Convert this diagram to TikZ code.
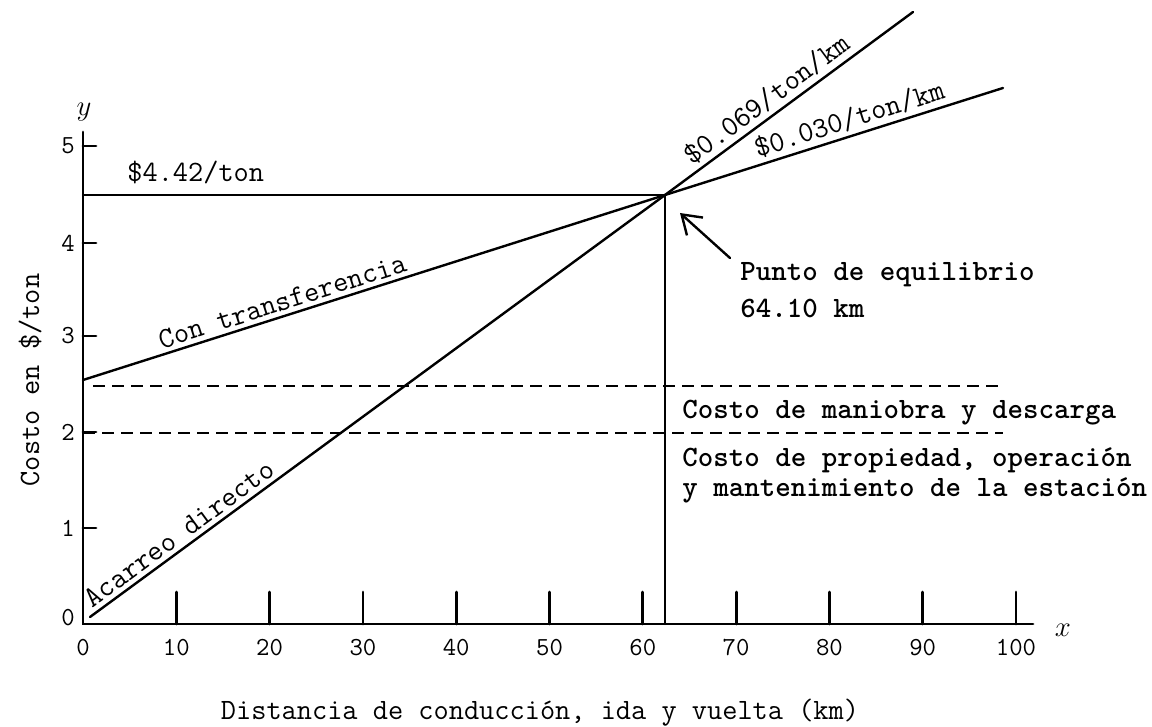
\documentclass[tikz,border=0pt]{standalone}
\usetikzlibrary{arrows.meta}
\begin{document}
\begin{tikzpicture}[x=0.5pt,y=-0.5pt,
  axisline/.style={line width=1.4pt,line cap=round},
  curve/.style={line width=1.2pt,line cap=round},
  dashline/.style={line width=1.1pt,dash pattern=on 6pt off 3.5pt},
  lbl/.style={font=\fontsize{14.75}{17}\selectfont\ttfamily,inner sep=1pt},
  blbl/.style={font=\fontsize{14.75}{17}\selectfont\ttfamily\bfseries,inner sep=1pt},
  ticklbl/.style={font=\fontsize{13}{15}\selectfont\ttfamily,inner sep=0pt},
  onlbl/.style={font=\fontsize{14.75}{17}\selectfont\ttfamily,sloped,above,inner sep=2pt}]
\useasboundingbox (0,0) rectangle (1152,727);
% key points
\coordinate (O) at (83,624);
\coordinate (Ytop) at (83,132);
\coordinate (Xend) at (1033,624);
\coordinate (P) at (665,195);
\coordinate (Pbase) at (665,624);
\coordinate (H0) at (83,195);
\coordinate (A0) at (90,617);
\coordinate (A1) at (913,12);
\coordinate (T0) at (83,380);
\coordinate (T1) at (1003,88);
\coordinate (D1a) at (93,386);
\coordinate (D1b) at (1003,386);
\coordinate (D2a) at (83,433);
\coordinate (D2b) at (1003,433);
% axes
\draw[axisline] (Ytop) -- (O) -- (Xend);
\foreach \k in {1,...,10} {
  \draw[axisline] ({83+93.3*\k},592) -- ({83+93.3*\k},624);
}
\foreach \v/\yy in {1/528,2/432,3/336,4/243,5/146} {
  \draw[axisline] (83,\yy) -- (96,\yy);
}
\foreach \k in {0,...,10} {
  \pgfmathtruncatemacro{\lab}{10*\k}
  \node[ticklbl] (xl\k) at ({83+93.3*\k},648) {\lab};
}
\foreach \v/\yy in {0/618,1/528,2/432,3/336,4/243,5/146} {
  \node[ticklbl] (yl\v) at (68,\yy) {\v};
}
\node[font=\fontsize{15}{17}\selectfont] (ylab) at (84,112) {$y$};
\node[font=\fontsize{15}{17}\selectfont] (xlab) at (1063,630) {$x$};
\node[lbl,rotate=90] (yax) at (30,380) {Costo en \$/ton};
\node[lbl] (xax) at (540,713) {Distancia de conducci\'on, ida y vuelta (km)};
% dashed
\draw[dashline] (D1a) -- (D1b);
\draw[dashline] (D2a) -- (D2b);
% lines
\draw[curve] (H0) -- (P);
\draw[curve] (P) -- (Pbase);
\draw[curve] (A0) -- node[onlbl,pos=0.17] (acar) {Acarreo directo} (P)
  -- node[onlbl,pos=0.45] (r069) {\$0.069/ton/km} (A1);
\draw[curve] (T0) -- node[onlbl,pos=0.35] (cont) {Con transferencia} (P)
  -- node[onlbl,pos=0.56] (r030) {\$0.030/ton/km} (T1);
% labels
\node[lbl,anchor=west] (c442) at (125,172) {\$4.42/ton};
\node[blbl,anchor=west] (punto) at (738,275) {Punto de equilibrio};
\node[blbl,anchor=west] (km) at (738,308) {64.10 km};
\node[blbl,anchor=west] (man) at (680,413) {Costo de maniobra y descarga};
\node[blbl,anchor=west] (prop1) at (680,460) {Costo de propiedad, operaci\'on};
\node[blbl,anchor=west] (prop2) at (680,490) {y mantenimiento de la estaci\'on};
\coordinate (ArT) at (730,258);
\coordinate (ArH) at (680,213);
\draw[curve,-{Straight Barb[length=9pt,width=12pt,line width=1.2pt]}] (ArT) -- (ArH);
\end{tikzpicture}
\end{document}
